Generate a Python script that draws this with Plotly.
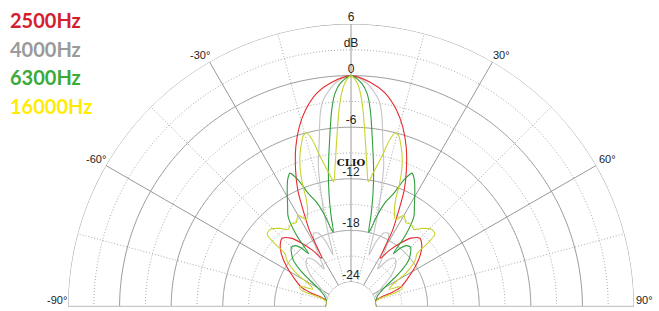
import numpy as np
import plotly.graph_objects as go

# ---------------- data ----------------
series_names = ["2500Hz", "4000Hz", "6300Hz", "16000Hz"]

ang_2500 = [0, 5, 9, 13, 16, 19, 22, 24.5, 26.5, 28.5, 31, 34, 37.5, 41, 45, 49, 53, 58, 64, 68, 70.5, 72, 74, 78, 90]
db_2500 = [0, -0.7, -1.7, -3.4, -5.1, -7.2, -9.7, -12, -14.6, -16.8, -20.3, -19.0, -17.6, -16.3, -15.6, -16.0, -16.8,
           -18.1, -19.7, -20.6, -21.8, -23.3, -23.8, -24, -24]

ang_4000 = [0, 4, 7.6, 9, 11, 13, 14.5, 16, 17.5, 19, 21, 24, 27, 30, 33, 35, 38, 42, 47, 52, 57, 63, 70, 90]
db_4000 = [0, -0.8, -2.6, -4.1, -7.5, -10, -12.8, -15.5, -18.5, -20.5, -18.8, -17.5, -17.3, -18.5, -20.5, -21.5,
           -20, -19.3, -19.8, -21, -22.5, -23.5, -24, -24]

ang_6300 = [0, 2.8, 4.3, 5.6, 7.5, 9.4, 11, 12.3, 13.3, 14.3, 16, 18, 20.6, 22.5, 24.5, 26.5, 29.3, 32, 34.8, 37.2,
            38.5, 40, 42, 45, 48, 51, 55, 59.5, 64, 68, 72, 76, 90]
db_6300 = [0, -0.9, -2.0, -3.9, -7.7, -10.8, -13.5, -16, -18, -17.5, -15.8, -14.2, -12.8, -11, -9.8, -10.4, -11.75,
           -13, -14.1, -16.4, -19, -18, -17.3, -17.1, -17.6, -18.3, -20.1, -22.3, -23.2, -23.6, -23.8, -24, -24]

ang_16000 = [0, 1.5, 2.5, 3.5, 4.3, 5.3, 6.5, 7.9, 9.5, 11.6, 13, 14.3, 15.5, 16.5, 18.5, 20.3, 21.5, 22.5, 24, 27,
             30, 33, 36, 39, 42, 46, 49, 50.3, 51, 54, 58, 62, 65, 68, 70.5, 72, 74, 78, 90]
db_16000 = [0, -0.8, -2, -4, -6, -8.3, -10.5, -12.2, -11, -9, -7, -6, -6.2, -6.8, -8.2, -9.9, -11.5, -13.3, -14.5,
            -15.5, -14.6, -15.2, -15.0, -15.3, -14.6, -13.9, -14.0, -15.5, -17, -17.7, -19.3, -21.5, -22, -20.6,
            -20.6, -21.5, -23.5, -24, -24]

radial_tick_vals = [6, 3, 0, -6, -12, -18, -24]
radial_tick_text = ["6", "dB", "0", "-6", "-12", "-18", "-24"]
angular_tick_text = ["-90°", "-60°", "-30°", "30°", "60°", "90°"]

line_colors = ["#e8282c", "#c4c4c4", "#2f9e3c", "#c8d42c"]
legend_colors = ["#d4202e", "#9a9a9a", "#3aaa3a", "#ffec00"]

R_MIN, R_MAX = -24, 6


def mirror(ang, db):
    a = [-x for x in ang[:0:-1]] + list(ang)
    d = list(db[:0:-1]) + list(db)
    return a, d


fig = go.Figure()

# ---------------- grid (decoration) ----------------
arc = np.linspace(-90, 90, 361)
for rv in [6, 0, -6, -12, -18, -24]:
    fig.add_trace(go.Scatterpolar(r=[rv] * len(arc), theta=arc, mode="lines",
                                  line=dict(color="#999999", width=1), hoverinfo="skip",
                                  showlegend=False, cliponaxis=False))
for rv in [3, -3, -9, -15, -21]:
    fig.add_trace(go.Scatterpolar(r=[rv] * len(arc), theta=arc, mode="lines",
                                  line=dict(color="#a8a8a8", width=1, dash="1px,2px"), hoverinfo="skip",
                                  showlegend=False, cliponaxis=False))
for th in [-60, -30, 0, 30, 60]:
    fig.add_trace(go.Scatterpolar(r=[R_MIN, R_MAX], theta=[th, th], mode="lines",
                                  line=dict(color="#999999", width=1), hoverinfo="skip",
                                  showlegend=False, cliponaxis=False))
for th in [-75, -45, -15, 15, 45, 75]:
    fig.add_trace(go.Scatterpolar(r=[R_MIN, R_MAX], theta=[th, th], mode="lines",
                                  line=dict(color="#a8a8a8", width=1, dash="1px,2px"), hoverinfo="skip",
                                  showlegend=False, cliponaxis=False))
for th in [-90, 90]:
    fig.add_trace(go.Scatterpolar(r=[R_MIN, R_MAX], theta=[th, th], mode="lines",
                                  line=dict(color="#c8c8c8", width=2.5), hoverinfo="skip",
                                  showlegend=False, cliponaxis=False))

# ---------------- data curves ----------------
curves = [(ang_2500, db_2500), (ang_4000, db_4000), (ang_6300, db_6300), (ang_16000, db_16000)]
order = [1, 0, 2, 3]
for i in order:
    a, d = mirror(*curves[i])
    fig.add_trace(go.Scatterpolar(r=d, theta=a, mode="lines", name=series_names[i],
                                  line=dict(color=line_colors[i], width=1.1, shape="spline", smoothing=0.8),
                                  showlegend=False))

# radial labels
fig.add_trace(go.Scatterpolar(r=radial_tick_vals, theta=[0] * len(radial_tick_vals), mode="text",
                              text=radial_tick_text, textposition="top center",
                              textfont=dict(family="Liberation Sans, Arial", size=12, color="#222222"),
                              showlegend=False, hoverinfo="skip", cliponaxis=False))
# CLIO watermark
fig.add_trace(go.Scatterpolar(r=[-10.2], theta=[0], mode="text", text=["<b>CLIO</b>"],
                              textposition="middle center",
                              textfont=dict(family="DejaVu Serif, serif", size=10, color="#111111"),
                              showlegend=False, hoverinfo="skip", cliponaxis=False))

W, H = 659, 311
cx, cy, R = 351, 307, 283
fig.update_layout(
    width=W, height=H, margin=dict(l=0, r=0, t=0, b=0),
    paper_bgcolor="white", plot_bgcolor="white",
    polar=dict(
        domain=dict(x=[(cx - R) / W, (cx + R) / W], y=[(H - cy) / H, (H - cy + R) / H]),
        sector=[0, 180], hole=25 / R, bgcolor="white",
        radialaxis=dict(range=[R_MIN, R_MAX], showgrid=False, showline=False, showticklabels=False,
                        ticks=""),
        angularaxis=dict(rotation=90, direction="clockwise", showgrid=False, showline=False, ticks="",
                         showticklabels=False),
    ),
)

# angular labels (positions in pixels of the window)
ang_label_pos = [(57, 300), (96, 159), (200, 55), (501, 55), (607, 159), (644, 300)]
for txt, (px, py) in zip(angular_tick_text, ang_label_pos):
    fig.add_annotation(x=px / W, y=1 - py / H, xref="paper", yref="paper", xanchor="center",
                       yanchor="middle", showarrow=False, text=txt,
                       font=dict(family="Liberation Sans, Arial", size=11, color="#222222"))

for k, name in enumerate(series_names):
    fig.add_annotation(x=8 / W, y=1 - (20 + 28.7 * k) / H, xref="paper", yref="paper",
                       xanchor="left", yanchor="middle", showarrow=False, text="<b>%s</b>" % name,
                       font=dict(family="Lato, sans-serif", size=20, color=legend_colors[k]))

fig.write_html("out.html", config={"displayModeBar": False},
               post_script="document.body.style.margin='0px';")
